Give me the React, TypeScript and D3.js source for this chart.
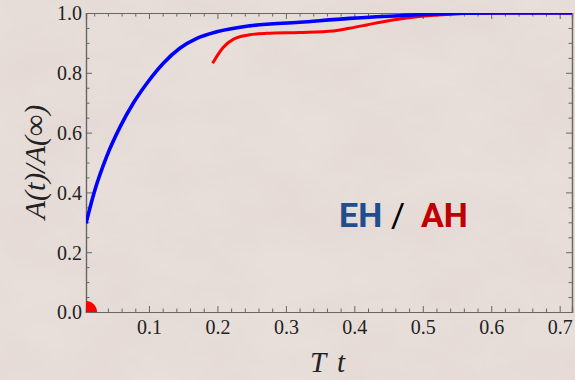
import React, { useEffect, useRef } from "react";
import * as d3 from "d3";

// EH curve (blue)
const ehT = [0.008, 0.021, 0.038, 0.058, 0.077, 0.097, 0.121, 0.145, 0.170, 0.199, 0.247, 0.32, 0.393, 0.466, 0.52, 0.56, 0.62, 0.718];
const ehA = [0.297, 0.408, 0.519, 0.62, 0.698, 0.765, 0.832, 0.882, 0.915, 0.937, 0.957, 0.969, 0.982, 0.991, 0.997, 0.999, 1.0, 1.0];

// AH curve (red)
const ahT = [0.193, 0.208, 0.223, 0.247, 0.272, 0.32, 0.369, 0.393, 0.418, 0.442, 0.466, 0.495, 0.535, 0.57, 0.62, 0.718];
const ahA = [0.832, 0.884, 0.912, 0.927, 0.932, 0.935, 0.940, 0.949, 0.96, 0.971, 0.98, 0.988, 0.995, 0.999, 1.0, 1.0];

// AH starting point at origin
const ahOrigin = [{ t: 0.008, a: 0 }];

const xTicks = [0.1, 0.2, 0.3, 0.4, 0.5, 0.6, 0.7];
const yTicks = [0.0, 0.2, 0.4, 0.6, 0.8, 1.0];

const SERIF = "'Liberation Serif', 'Times New Roman', serif";

const App = () => {
  const ref = useRef<SVGSVGElement | null>(null);

  useEffect(() => {
    const W = 575, H = 380;
    const margin = { top: 13, right: 3, bottom: 68, left: 86 };
    const width = W - margin.left - margin.right;
    const height = H - margin.top - margin.bottom;

    const svg = d3.select(ref.current);
    svg.selectAll("*").remove();

    // background
    const defs = svg.append("defs");
    const filt = defs.append("filter").attr("id", "marble").attr("x", 0).attr("y", 0).attr("width", "100%").attr("height", "100%");
    filt.append("feTurbulence").attr("type", "fractalNoise").attr("baseFrequency", "0.012 0.02").attr("numOctaves", 4).attr("seed", 3);
    filt.append("feColorMatrix").attr("type", "matrix")
      .attr("values", "0 0 0 0 0.72  0 0 0 0 0.6  0 0 0 0 0.55  0 0 0 0.45 -0.1");
    defs.append("clipPath").attr("id", "plotclip").append("rect").attr("width", width).attr("height", height);

    svg.append("rect").attr("width", W).attr("height", H).attr("fill", "#e8dfdb");
    svg.append("rect").attr("width", W).attr("height", H).attr("filter", "url(#marble)");

    const g = svg.append("g").attr("transform", `translate(${margin.left},${margin.top})`);

    const x = d3.scaleLinear().domain([0.008, 0.718]).range([0, width]);
    const y = d3.scaleLinear().domain([0, 1]).range([height, 0]);

    const frame = "#666";
    // frame with inward ticks on all four sides
    const xMinor = d3.range(0.02, 0.72, 0.02).filter((v) => Math.abs(v * 10 - Math.round(v * 10)) > 1e-6);
    const yMinor = d3.range(0.05, 1.0, 0.05).filter((v) => Math.abs(v * 5 - Math.round(v * 5)) > 1e-6);

    const bottom = g.append("g").attr("transform", `translate(0,${height})`)
      .call(d3.axisBottom(x).tickValues(xTicks).tickSize(-6).tickFormat(d3.format(".1f")));
    const top = g.append("g").call(d3.axisTop(x).tickValues(xTicks).tickSize(-6).tickFormat(() => ""));
    const left = g.append("g").call(d3.axisLeft(y).tickValues(yTicks).tickSize(-6).tickFormat(d3.format(".1f")));
    const right = g.append("g").attr("transform", `translate(${width},0)`)
      .call(d3.axisRight(y).tickValues(yTicks).tickSize(-6).tickFormat(() => ""));

    g.append("g").attr("transform", `translate(0,${height})`).call(d3.axisBottom(x).tickValues(xMinor).tickSize(-3.5).tickFormat(() => ""));
    g.append("g").call(d3.axisTop(x).tickValues(xMinor).tickSize(-3.5).tickFormat(() => ""));
    g.append("g").call(d3.axisLeft(y).tickValues(yMinor).tickSize(-3.5).tickFormat(() => ""));
    g.append("g").attr("transform", `translate(${width},0)`).call(d3.axisRight(y).tickValues(yMinor).tickSize(-3.5).tickFormat(() => ""));

    g.selectAll(".domain").attr("stroke", frame).attr("stroke-width", 1.2);
    g.selectAll(".tick line").attr("stroke", frame).attr("stroke-width", 1);
    g.selectAll(".tick text").attr("fill", "#222").style("font-family", SERIF).style("font-size", "20px");
    bottom.selectAll(".tick text").attr("y", 8);
    left.selectAll(".tick text").attr("x", -4).attr("dy", "0.34em");
    top.selectAll(".tick text").remove();
    right.selectAll(".tick text").remove();

    // curves
    const plot = g.append("g").attr("clip-path", "url(#plotclip)");
    const line = d3.line<number>().curve(d3.curveMonotoneX);

    plot.append("circle")
      .attr("cx", x(ahOrigin[0].t)).attr("cy", y(ahOrigin[0].a)).attr("r", 11)
      .attr("fill", "#ff0000");

    plot.append("path")
      .attr("d", line.x((d) => x(d)).y((d, i) => y(ahA[i]))(ahT))
      .attr("fill", "none").attr("stroke", "#ff0000").attr("stroke-width", 3);

    plot.append("path")
      .attr("d", line.x((d) => x(d)).y((d, i) => y(ehA[i]))(ehT))
      .attr("fill", "none").attr("stroke", "#0000ff").attr("stroke-width", 3.6);

    // axis titles
    svg.append("text")
      .attr("transform", `translate(45,162) rotate(-90)`)
      .attr("text-anchor", "middle")
      .style("font-family", SERIF).style("font-style", "italic").style("font-size", "30px")
      .attr("fill", "#222")
      .text("A(t)/A(∞)");
    const xt = svg.append("text")
      .attr("y", 372)
      .style("font-family", SERIF).style("font-style", "italic").style("font-size", "29px")
      .attr("fill", "#222");
    xt.append("tspan").attr("x", 310).text("T");
    xt.append("tspan").attr("x", 337).text("t");

    // EH / AH label
    const lbl = svg.append("text").attr("y", 227)
      .style("font-family", "Roboto, sans-serif").style("font-weight", "700").style("font-size", "34px");
    lbl.append("tspan").attr("x", 339).attr("fill", "#1f4e8c").text("EH");
    lbl.append("tspan").attr("x", 391).attr("fill", "#000").style("font-weight", "400").text("/");
    lbl.append("tspan").attr("x", 421).attr("fill", "#c00000").text("AH");
  }, []);

  return (
    <div style={{ position: "fixed", left: 0, top: 0 }}>
      <svg ref={ref} width={575} height={380} style={{ display: "block" }} />
    </div>
  );
};

export default App;
